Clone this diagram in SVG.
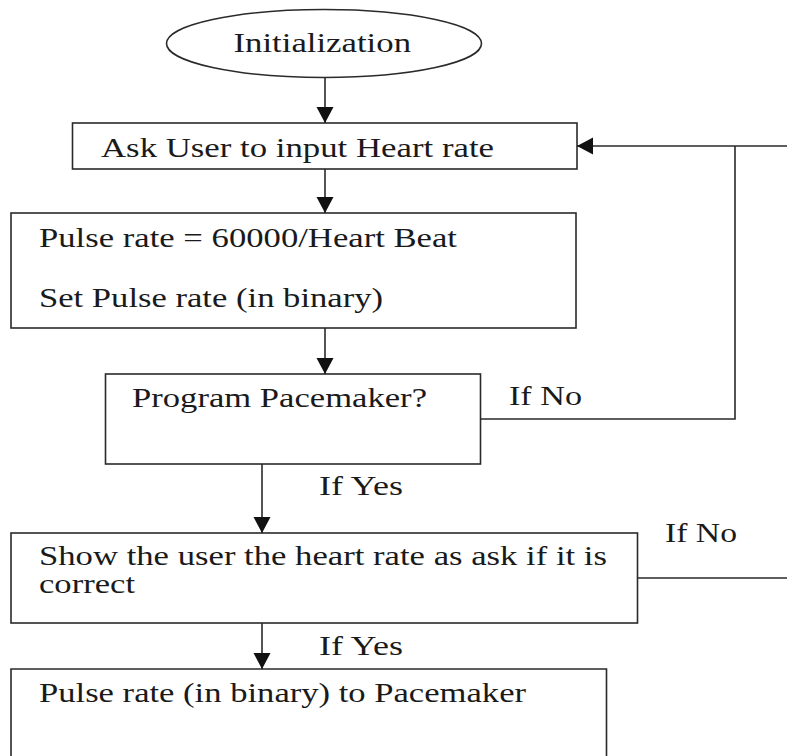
<svg xmlns="http://www.w3.org/2000/svg" width="787" height="756" viewBox="0 0 787 756">
<style>
.box{fill:#fff;stroke:#2a2a2a;stroke-width:1.6}
.ln{fill:none;stroke:#2a2a2a;stroke-width:1.6}
.t{font-family:"Liberation Serif","Times New Roman",serif;font-size:27px;fill:#1a1a1a}
</style>
<defs>
<marker id="ah" markerUnits="userSpaceOnUse" markerWidth="18" markerHeight="18" refX="16" refY="8.5" orient="auto">
<path d="M0,0 L16,8.5 L0,17 Z" fill="#111"/>
</marker>
</defs>
<rect width="787" height="756" fill="#fff"/>
<g id="n-init">
<ellipse class="box" cx="324" cy="43.5" rx="157.5" ry="34"/>
<text class="t" x="233.5" y="52" textLength="177.5" lengthAdjust="spacingAndGlyphs">Initialization</text>
</g>
<g id="n-ask">
<rect class="box" x="72.5" y="123" width="504.5" height="46"/>
<text class="t" x="101" y="156.5" textLength="393" lengthAdjust="spacingAndGlyphs">Ask User to input Heart rate</text>
</g>
<g id="n-pulse">
<rect class="box" x="11" y="213" width="565" height="115"/>
<text class="t" x="39" y="247" textLength="418" lengthAdjust="spacingAndGlyphs">Pulse rate = 60000/Heart Beat</text>
<text class="t" x="39" y="306.5" textLength="344" lengthAdjust="spacingAndGlyphs">Set Pulse rate (in binary)</text>
</g>
<g id="n-program">
<rect class="box" x="105.5" y="374" width="375" height="90"/>
<text class="t" x="132" y="407" textLength="295" lengthAdjust="spacingAndGlyphs">Program Pacemaker?</text>
</g>
<g id="n-show">
<rect class="box" x="11" y="533" width="626.5" height="90"/>
<text class="t" x="39" y="565" textLength="568" lengthAdjust="spacingAndGlyphs">Show the user the heart rate as ask if it is</text>
<text class="t" x="39" y="593" textLength="96" lengthAdjust="spacingAndGlyphs">correct</text>
</g>
<g id="n-send">
<path class="box" d="M11,760 L11,669 L606.5,669 L606.5,760"/>
<text class="t" x="39" y="702" textLength="487" lengthAdjust="spacingAndGlyphs">Pulse rate (in binary) to Pacemaker</text>
</g>
<g id="connectors">
<line class="ln" x1="325" y1="78" x2="325" y2="123" marker-end="url(#ah)"/>
<line class="ln" x1="325" y1="169" x2="325" y2="213" marker-end="url(#ah)"/>
<line class="ln" x1="325" y1="328" x2="325" y2="374" marker-end="url(#ah)"/>
<line class="ln" x1="262" y1="464" x2="262" y2="533" marker-end="url(#ah)"/>
<line class="ln" x1="262" y1="623" x2="262" y2="669" marker-end="url(#ah)"/>
<polyline class="ln" points="480.5,419 735,419 735,146"/>
<line class="ln" x1="790" y1="146" x2="577" y2="146" marker-end="url(#ah)"/>
<line class="ln" x1="637.5" y1="578" x2="790" y2="578"/>
<text class="t" x="509" y="405" textLength="73" lengthAdjust="spacingAndGlyphs">If No</text>
<text class="t" x="319" y="495" textLength="84" lengthAdjust="spacingAndGlyphs">If Yes</text>
<text class="t" x="665" y="542" textLength="72" lengthAdjust="spacingAndGlyphs">If No</text>
<text class="t" x="319" y="655" textLength="84" lengthAdjust="spacingAndGlyphs">If Yes</text>
</g>
</svg>
